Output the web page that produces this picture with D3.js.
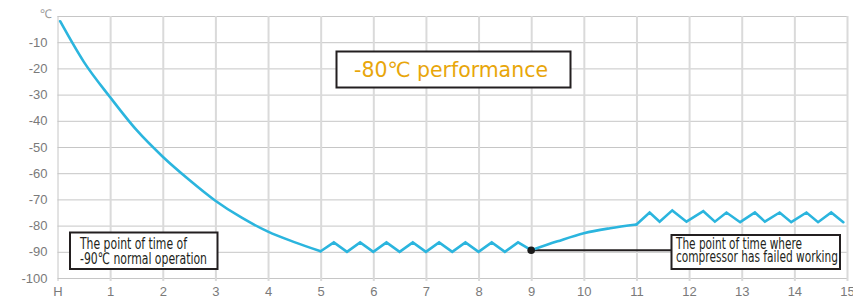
<!DOCTYPE html>
<html>
<head>
<meta charset="utf-8">
<script src="https://cdn.jsdelivr.net/npm/d3@7"></script>
<style>
  body { margin: 0; background: #fff; }
  svg { display: block; }
  .tick text { font-family: "Liberation Sans", Arial, sans-serif; font-size: 13px; fill: #7a7a7a; }
  .note { font-family: "Liberation Sans Narrow", "DejaVu Sans Condensed", "Liberation Sans", sans-serif; }
</style>
</head>
<body>
<svg id="chart"></svg>
<script>
// Data
const xTicks = [0, 1, 2, 3, 4, 5, 6, 7, 8, 9, 10, 11, 12, 13, 14, 15];
const xTickLabels = ["H", "1", "2", "3", "4", "5", "6", "7", "8", "9", "10", "11", "12", "13", "14", "15"];
const yTicks = [0, -10, -20, -30, -40, -50, -60, -70, -80, -90, -100];

// cool-down from ambient
const coolHours = [0.05, 0.5, 1, 1.5, 2, 2.5, 3, 3.5, 4, 4.5, 5];
const coolTemps = [-2, -17.5, -31, -43.5, -53.7, -62.5, -70.5, -77, -82.3, -86.3, -89.8];

// normal running (compressor cycling)
const runHours = [5, 5.25, 5.5, 5.75, 6, 6.25, 6.5, 6.75, 7, 7.25, 7.5, 7.75, 8, 8.25, 8.5, 8.75, 9];
const runTemps = [-89.8, -86.4, -90, -86.4, -90, -86.4, -90, -86.4, -90, -86.4, -90, -86.4, -90, -86.4, -90, -86.4, -89.4];

// after compressor failure: warming
const warmHours = [9, 9.5, 10, 10.5, 11];
const warmTemps = [-89.4, -86, -82.9, -81, -79.6];

// holding near -80
const holdHours = [11, 11.25, 11.44, 11.68, 11.95, 12.27, 12.49, 12.71, 12.97, 13.25, 13.44, 13.72, 13.94, 14.23, 14.45, 14.7, 14.93];
const holdTemps = [-79.6, -75, -78.5, -74.2, -78.5, -74.5, -78.5, -75, -78.7, -75, -78.5, -75, -78.7, -75, -78.7, -75, -78.7];

const failPoint = { h: 9, t: -89.4 };

const W = 853, H = 298;
const margin = { top: 16, right: 6, bottom: 20, left: 57.5 },
  width = 847 - margin.left,
  height = 278 - margin.top;

const svg = d3.select("#chart")
  .attr("width", W)
  .attr("height", H);

const g = svg.append("g")
  .attr("transform", `translate(${margin.left},${margin.top})`);

const x = d3.scaleLinear().domain([0, 15]).range([0, width]);
const y = d3.scaleLinear().domain([0, -100]).range([0, height]);

// Horizontal grid + y labels
const yAxis = g.append("g")
  .call(d3.axisLeft(y)
    .tickValues(yTicks)
    .tickSize(-width)
    .tickPadding(10)
    .tickFormat(d => d === 0 ? "" : d));
yAxis.select(".domain").remove();
yAxis.selectAll(".tick line").attr("stroke", "#c6c6c6").attr("stroke-width", 1);

// Vertical grid + x labels
const xAxis = g.append("g")
  .attr("transform", `translate(0,${height + 3})`)
  .call(d3.axisBottom(x)
    .tickValues(xTicks)
    .tickSize(-(height + 3))
    .tickPadding(6)
    .tickFormat((d, i) => xTickLabels[i]));
xAxis.select(".domain").remove();
xAxis.selectAll(".tick line")
  .attr("stroke", d => d === 0 ? "#c6c6c6" : "#dadada")
  .attr("stroke-width", d => d === 0 ? 1 : 2);

// unit label
svg.append("text")
  .attr("x", 52)
  .attr("y", 18)
  .attr("text-anchor", "end")
  .attr("font-family", "Liberation Sans, Arial, sans-serif")
  .attr("font-size", 12)
  .attr("fill", "#999")
  .text("℃");

// Lines
const smooth = d3.line().curve(d3.curveMonotoneX)
  .x(d => x(d[0])).y(d => y(d[1]));
const straight = d3.line()
  .x(d => x(d[0])).y(d => y(d[1]));

const segs = [
  { h: coolHours, t: coolTemps, gen: smooth },
  { h: runHours, t: runTemps, gen: straight },
  { h: warmHours, t: warmTemps, gen: smooth },
  { h: holdHours, t: holdTemps, gen: straight }
];

// failure marker line
const noteRightX = 671.5 - margin.left;
g.append("line")
  .attr("x1", x(failPoint.h))
  .attr("x2", noteRightX)
  .attr("y1", y(failPoint.t))
  .attr("y2", y(failPoint.t))
  .attr("stroke", "#231f20")
  .attr("stroke-width", 2);

g.selectAll(".series")
  .data(segs)
  .enter()
  .append("path")
  .attr("class", "series")
  .attr("fill", "none")
  .attr("stroke", "#2bb5de")
  .attr("stroke-width", 2.6)
  .attr("stroke-linejoin", "miter")
  .attr("stroke-linecap", "round")
  .attr("d", s => s.gen(s.h.map((h, i) => [h, s.t[i]])));

g.append("circle")
  .attr("cx", x(failPoint.h))
  .attr("cy", y(failPoint.t))
  .attr("r", 3.8)
  .attr("fill", "#1a1a1a");

// Boxes with notes
function noteBox(bx, by, bw, bh, lines, opts) {
  svg.append("rect")
    .attr("x", bx).attr("y", by)
    .attr("width", bw).attr("height", bh)
    .attr("fill", "#fff")
    .attr("stroke", "#231f20")
    .attr("stroke-width", 2);
  lines.forEach(l => {
    svg.append("text")
      .attr("class", "note")
      .attr("x", l.x)
      .attr("y", l.y)
      .attr("font-size", opts.size)
      .attr("fill", opts.color)
      .attr("textLength", l.len)
      .attr("lengthAdjust", "spacingAndGlyphs")
      .text(l.text);
  });
}

noteBox(70, 232.5, 147.5, 36.5, [
  { text: "The point of time of", x: 80, y: 249, len: 107 },
  { text: "-90℃ normal operation", x: 80, y: 263.5, len: 127 }
], { size: 16, color: "#231f20" });

noteBox(671.5, 235, 168.5, 34, [
  { text: "The point of time where", x: 676, y: 248.5, len: 126 },
  { text: "compressor has failed working", x: 676, y: 262, len: 162 }
], { size: 16, color: "#231f20" });

noteBox(336.5, 51.5, 234, 36, [
  { text: "-80℃ performance", x: 354, y: 77, len: 194 }
], { size: 21, color: "#e8a60a" });
</script>
</body>
</html>
